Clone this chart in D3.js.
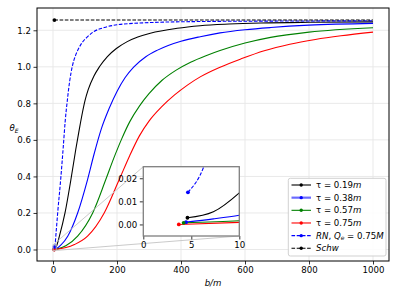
<!DOCTYPE html>
<html><head><meta charset="utf-8">
<script src="https://cdn.jsdelivr.net/npm/d3@7"></script>
<style>
html,body{margin:0;padding:0;background:#fff;}
svg{display:block;font-family:"DejaVu Sans",sans-serif;}
</style></head>
<body>
<svg id="chart" width="399" height="299"></svg>
<script>
// ---- data ----
const xTicks = [0, 200, 400, 600, 800, 1000];
const yTicks = [0.0, 0.2, 0.4, 0.6, 0.8, 1.0, 1.2];
const insetXTicks = [0, 5, 10];
const insetYTicks = [0.00, 0.01, 0.02];

const bTau019 = [4.6, 7.3, 10, 20, 37.5, 56, 71, 82, 92, 100, 110, 128, 145, 170, 198, 232, 265, 304, 388, 460, 550, 650, 800, 1000];
const thTau019 = [0.0029, 0.0055, 0.0137, 0.073, 0.2, 0.383, 0.546, 0.656, 0.75, 0.815, 0.875, 0.95, 1.0, 1.056, 1.10, 1.138, 1.163, 1.184, 1.211, 1.225, 1.234, 1.240, 1.244, 1.246];

const bTau038 = [4.45, 7.3, 10, 25, 46, 77, 108, 128, 150, 175, 200, 225, 252, 290, 325, 360, 400, 460, 522, 600, 680, 800, 1000];
const thTau038 = [0.001, 0.0024, 0.004, 0.025, 0.073, 0.2, 0.383, 0.52, 0.655, 0.77, 0.865, 0.94, 0.998, 1.055, 1.09, 1.117, 1.14, 1.165, 1.186, 1.203, 1.215, 1.228, 1.238];

const bTau057 = [4.2, 10, 40, 77, 124, 165, 190, 215, 240, 270, 300, 340, 385, 430, 480, 522, 600, 680, 800, 1000];
const thTau057 = [0.0007, 0.0016, 0.02, 0.073, 0.2, 0.383, 0.50, 0.607, 0.70, 0.785, 0.853, 0.925, 0.982, 1.025, 1.062, 1.089, 1.13, 1.161, 1.19, 1.214];

const bTau075 = [3.7, 10, 67, 108, 160, 207, 240, 270, 300, 340, 380, 420, 460, 522, 590, 660, 740, 820, 900, 1000];
const thTau075 = [0.0, 0.0009, 0.027, 0.073, 0.2, 0.383, 0.515, 0.622, 0.703, 0.782, 0.846, 0.9, 0.945, 0.998, 1.045, 1.088, 1.124, 1.15, 1.17, 1.19];

const bRN = [4.65, 6.3, 10, 14.6, 24, 32, 38, 45, 52, 60, 70, 80, 90, 105, 128, 160, 200, 300, 460, 650, 1000];
const thRN = [0.0139, 0.025, 0.1, 0.2, 0.383, 0.56, 0.70, 0.82, 0.92, 1.0, 1.06, 1.10, 1.13, 1.16, 1.193, 1.215, 1.23, 1.242, 1.248, 1.25, 1.252];

const bSchw = [4.4, 1000];
const thSchw = [1.256, 1.256];

const seriesNames = ["τ019", "τ038", "τ057", "τ075", "RN", "Schw"];
const seriesColors = ["#000000", "#0000ff", "#008000", "#ff0000", "#0000ff", "#000000"];
const seriesDashed = [false, false, false, false, true, true];

const series = [
  {b: bTau019, t: thTau019},
  {b: bTau038, t: thTau038},
  {b: bTau057, t: thTau057},
  {b: bTau075, t: thTau075},
  {b: bRN, t: thRN},
  {b: bSchw, t: thSchw}
].map((s, i) => ({name: seriesNames[i], color: seriesColors[i], dashed: seriesDashed[i],
                  pts: s.b.map((b, j) => [b, s.t[j]])}));

// ---- layout ----
const svg = d3.select("#chart");
const M = {l: 37, r: 389, t: 8, b: 261};
const x = d3.scaleLinear().domain([-50, 1050]).range([M.l, M.r]);
const y = d3.scaleLinear().domain([-0.063, 1.322]).range([M.b, M.t]);
const FS = 8.6;

// grid
const g = svg.append("g");
g.selectAll(".vg").data(xTicks).enter().append("line")
  .attr("x1", d => x(d)).attr("x2", d => x(d)).attr("y1", M.t).attr("y2", M.b)
  .attr("stroke", "#e6e6e6").attr("stroke-width", 0.9);
g.selectAll(".hg").data(yTicks).enter().append("line")
  .attr("y1", d => y(d)).attr("y2", d => y(d)).attr("x1", M.l).attr("x2", M.r)
  .attr("stroke", "#e6e6e6").attr("stroke-width", 0.9);

svg.append("defs").append("clipPath").attr("id", "mainclip")
  .append("rect").attr("x", M.l).attr("y", M.t).attr("width", M.r - M.l).attr("height", M.b - M.t);

const line = d3.line().x(d => x(d[0])).y(d => y(d[1])).curve(d3.curveMonotoneX);
const plot = svg.append("g").attr("clip-path", "url(#mainclip)");
series.forEach(s => {
  plot.append("path").datum(s.pts).attr("d", line).attr("fill", "none")
    .attr("stroke", s.color).attr("stroke-width", 1.1)
    .attr("stroke-dasharray", s.dashed ? "3.6,1.6" : null);
});
series.forEach(s => {
  plot.append("circle").attr("cx", x(s.pts[0][0])).attr("cy", y(s.pts[0][1]))
    .attr("r", 1.9).attr("fill", s.color);
});

// axes
const xAxis = svg.append("g").attr("transform", `translate(0,${M.b})`)
  .call(d3.axisBottom(x).tickValues(xTicks).tickSize(3.5).tickPadding(2.5).tickFormat(d3.format("d")));
const yAxis = svg.append("g").attr("transform", `translate(${M.l},0)`)
  .call(d3.axisLeft(y).tickValues(yTicks).tickSize(3.5).tickPadding(2.5).tickFormat(d3.format(".1f")));
[xAxis, yAxis].forEach(a => {
  a.select(".domain").remove();
  a.selectAll("text").attr("font-size", FS).attr("fill", "#000").attr("font-family", "DejaVu Sans");
  a.selectAll("line").attr("stroke", "#000").attr("stroke-width", 0.8);
});
svg.append("rect").attr("x", M.l).attr("y", M.t).attr("width", M.r - M.l).attr("height", M.b - M.t)
  .attr("fill", "none").attr("stroke", "#000").attr("stroke-width", 1);

// axis labels
svg.append("text").attr("x", 213).attr("y", 286).attr("text-anchor", "middle")
  .attr("font-size", FS).attr("font-style", "italic").text("b/m");
const yl = svg.append("text").attr("x", 9.5).attr("y", 131).attr("font-size", FS).attr("font-style", "italic");
yl.append("tspan").text("θ");
yl.append("tspan").attr("dy", 2).attr("font-size", 6).text("E");

// ---- inset ----
const I = {l: 143.3, r: 239.3, t: 166.7, b: 236};
const xi = d3.scaleLinear().domain([0, 10]).range([I.l, I.r]);
const yi = d3.scaleLinear().domain([-0.005, 0.025]).range([I.b, I.t]);

// connector lines (inset region marked in main axes)
const zx0 = x(0), zx1 = x(10), zy0 = y(-0.005), zy1 = y(0.025);
svg.append("rect").attr("x", zx0).attr("y", zy1).attr("width", zx1 - zx0).attr("height", zy0 - zy1)
  .attr("fill", "none").attr("stroke", "#c4c4c4").attr("stroke-width", 0.9);
svg.append("line").attr("x1", zx0).attr("y1", zy1).attr("x2", I.l).attr("y2", I.t)
  .attr("stroke", "#c4c4c4").attr("stroke-width", 0.9);
svg.append("line").attr("x1", zx1).attr("y1", zy0).attr("x2", I.r).attr("y2", I.b)
  .attr("stroke", "#c4c4c4").attr("stroke-width", 0.9);

svg.append("rect").attr("x", I.l).attr("y", I.t).attr("width", I.r - I.l).attr("height", I.b - I.t)
  .attr("fill", "#fff");
svg.select("defs").append("clipPath").attr("id", "insetclip")
  .append("rect").attr("x", I.l).attr("y", I.t).attr("width", I.r - I.l).attr("height", I.b - I.t);
const lineI = d3.line().x(d => xi(d[0])).y(d => yi(d[1])).curve(d3.curveMonotoneX);
const ip = svg.append("g").attr("clip-path", "url(#insetclip)");
series.forEach(s => {
  ip.append("path").datum(s.pts).attr("d", lineI).attr("fill", "none")
    .attr("stroke", s.color).attr("stroke-width", 1.1)
    .attr("stroke-dasharray", s.dashed ? "3.6,1.6" : null);
});
series.forEach(s => {
  ip.append("circle").attr("cx", xi(s.pts[0][0])).attr("cy", yi(s.pts[0][1]))
    .attr("r", 1.9).attr("fill", s.color);
});
const xiA = svg.append("g").attr("transform", `translate(0,${I.b})`)
  .call(d3.axisBottom(xi).tickValues(insetXTicks).tickSize(3.5).tickPadding(2.5).tickFormat(d3.format("d")));
const yiA = svg.append("g").attr("transform", `translate(${I.l},0)`)
  .call(d3.axisLeft(yi).tickValues(insetYTicks).tickSize(3.5).tickPadding(2.5).tickFormat(d3.format(".2f")));
[xiA, yiA].forEach(a => {
  a.select(".domain").remove();
  a.selectAll("text").attr("font-size", FS).attr("fill", "#000").attr("font-family", "DejaVu Sans");
  a.selectAll("line").attr("stroke", "#000").attr("stroke-width", 0.8);
});
svg.append("rect").attr("x", I.l).attr("y", I.t).attr("width", I.r - I.l).attr("height", I.b - I.t)
  .attr("fill", "none").attr("stroke", "#7f7f7f").attr("stroke-width", 1.3);

// ---- legend ----
const legendLabels = [
  [["τ = 0.19", "n"], ["m", "i"]],
  [["τ = 0.38", "n"], ["m", "i"]],
  [["τ = 0.57", "n"], ["m", "i"]],
  [["τ = 0.75", "n"], ["m", "i"]],
  [["RN", "i"], [", ", "n"], ["Q", "i"], ["e", "sub"], [" = 0.75", "n"], ["M", "i"]],
  [["Schw", "i"]]
];
const L = {x: 288.3, y: 178.3, w: 97.7, h: 77.7};
svg.append("rect").attr("x", L.x).attr("y", L.y).attr("width", L.w).attr("height", L.h)
  .attr("rx", 2).attr("fill", "#fff").attr("fill-opacity", 0.85).attr("stroke", "#cccccc").attr("stroke-width", 0.9);
const rowY = d3.scaleLinear().domain([0, 5]).range([185, 248.3]);
series.forEach((s, i) => {
  const yy = rowY(i);
  const wide = i === 1;
  svg.append("line").attr("x1", 291.5).attr("x2", 311).attr("y1", yy).attr("y2", yy)
    .attr("stroke", wide ? "#6b6bff" : s.color).attr("stroke-width", wide ? 2.2 : 1.1)
    .attr("stroke-dasharray", s.dashed ? "3.6,1.6" : null);
  svg.append("circle").attr("cx", 301.2).attr("cy", yy).attr("r", 1.7).attr("fill", s.color);
  const t = svg.append("text").attr("x", 316).attr("y", yy + 3).attr("font-size", FS);
  legendLabels[i].forEach(([txt, st]) => {
    const sp = t.append("tspan").text(txt);
    if (st === "i") sp.attr("font-style", "italic");
    if (st === "sub") sp.attr("font-style", "italic").attr("font-size", 6).attr("dy", 1.8);
    if (st === "n" && txt.startsWith(" =")) sp.attr("dy", -1.8);
  });
});
</script>
</body></html>
